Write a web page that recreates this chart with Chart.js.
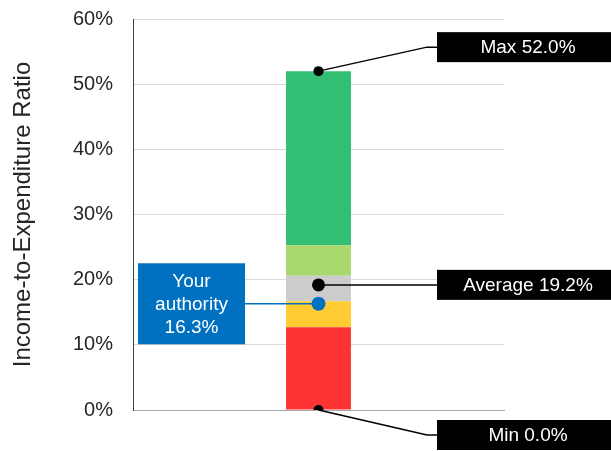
<!DOCTYPE html>
<html>
<head>
<meta charset="utf-8">
<script src="https://cdn.jsdelivr.net/npm/chart.js@4/dist/chart.umd.min.js"></script>
<style>
  html, body { margin: 0; padding: 0; background: #fff; }
  #wrap { width: 611px; height: 451px; }
</style>
</head>
<body>
<div id="wrap"><canvas id="ratioChart" width="611" height="451"></canvas></div>
<script>
// data
const categories = [''];
const bandNames = ['Red', 'Amber', 'Grey', 'Light green', 'Green'];
const bandLower = [0, 12.7, 16.7, 20.6, 25.3];
const bandUpper = [12.7, 16.7, 20.6, 25.3, 52.0];
const bandColors = ['#FF3333', '#FFCC33', '#CCCCCC', '#A9D96E', '#33BF73'];

const markerNames = ['Max', 'Average', 'Your authority', 'Min'];
const markerValues = [52.0, 19.2, 16.3, 0.0];
const markerColors = ['#000000', '#000000', '#0070C0', '#000000'];
const markerRadius = [5, 6.5, 7, 5];

const yMin = 0;
const yMax = 60;
const yStep = 10;
const yTitle = 'Income-to-Expenditure Ratio';

const FONT = '"Liberation Sans", Arial, sans-serif';
const TEXT = '#262626';

const fmt = v => v.toFixed(1) + '%';

// boxes with leader lines for each marker
const calloutPlugin = {
  id: 'callouts',
  afterDatasetsDraw(chart) {
    const ctx = chart.ctx;
    const area = chart.chartArea;
    const W = chart.width;
    ctx.save();
    ctx.font = '19px ' + FONT;
    ctx.textAlign = 'center';
    ctx.textBaseline = 'middle';

    markerNames.forEach((name, i) => {
      const meta = chart.getDatasetMeta(bandNames.length + i);
      const pt = meta.data[0];
      const px = pt.x, py = pt.y;

      if (name === 'Your authority') {
        const left = area.left + 5, right = area.left + 112;
        const h = 81;
        ctx.strokeStyle = markerColors[i];
        ctx.lineWidth = 1.5;
        ctx.beginPath();
        ctx.moveTo(right, py);
        ctx.lineTo(px, py);
        ctx.stroke();
        ctx.fillStyle = markerColors[i];
        ctx.fillRect(left, py - h / 2, right - left, h);
        ctx.fillStyle = '#fff';
        const cx = (left + right) / 2;
        ctx.fillText('Your', cx, py - 22);
        ctx.fillText('authority', cx, py + 1);
        ctx.fillText(fmt(markerValues[i]), cx, py + 24);
        return;
      }

      let cy = py;
      if (name === 'Max') cy = py - 24;
      if (name === 'Min') cy = py + 25;
      const left = area.right - 67;
      const right = W + 8;
      const h = 30;

      ctx.strokeStyle = '#000';
      ctx.lineWidth = 1.5;
      ctx.beginPath();
      ctx.moveTo(px, py);
      ctx.lineTo(left - 10, cy);
      ctx.lineTo(left, cy);
      ctx.stroke();

      ctx.fillStyle = '#000';
      ctx.fillRect(left, cy - h / 2, right - left, h);
      ctx.fillStyle = '#fff';
      ctx.fillText(name + ' ' + fmt(markerValues[i]), (left + right) / 2, cy + 1);
    });
    ctx.restore();
  }
};

const datasets = [];
bandNames.forEach((name, i) => {
  datasets.push({
    type: 'bar',
    label: name,
    data: [[bandLower[i], bandUpper[i]]],
    backgroundColor: bandColors[i],
    borderWidth: 0,
    grouped: false,
    categoryPercentage: 1,
    barPercentage: 0.175,
    order: 2
  });
});
markerNames.forEach((name, i) => {
  datasets.push({
    type: 'line',
    label: name,
    data: [markerValues[i]],
    showLine: false,
    pointRadius: markerRadius[i],
    pointBackgroundColor: markerColors[i],
    pointBorderWidth: 0,
    order: 1
  });
});

new Chart(document.getElementById('ratioChart'), {
  data: { labels: categories, datasets: datasets },
  options: {
    responsive: false,
    animation: false,
    layout: { padding: { top: 19, right: 107, bottom: 41, left: 3 } },
    plugins: {
      legend: { display: false },
      tooltip: { enabled: false }
    },
    scales: {
      x: {
        ticks: { display: false },
        grid: { display: false, drawTicks: false },
        border: { color: '#A6A6A6', width: 1 }
      },
      y: {
        min: yMin,
        max: yMax,
        ticks: {
          stepSize: yStep,
          padding: 20,
          color: TEXT,
          font: { family: FONT, size: 20 },
          callback: v => v + '%'
        },
        grid: { color: '#D9D9D9', drawTicks: false },
        border: { color: '#404040', width: 1 },
        title: {
          display: true,
          text: yTitle,
          color: TEXT,
          font: { family: FONT, size: 24 },
          padding: { top: 6, bottom: 4 }
        },
        afterFit(scale) {
          scale.width = 130;
          scale.paddingTop = 0;
          scale.paddingBottom = 0;
        }
      }
    }
  },
  plugins: [calloutPlugin]
});
</script>
</body>
</html>
